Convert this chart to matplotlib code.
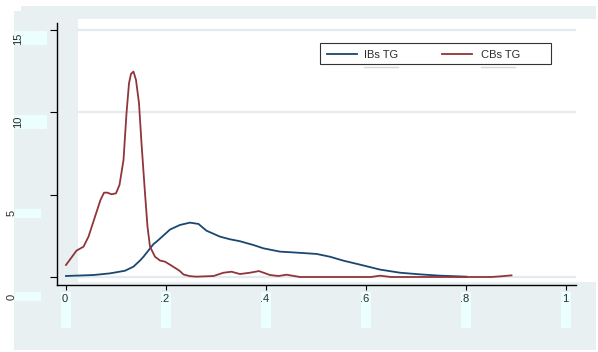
import matplotlib
matplotlib.use('Agg')
import matplotlib.pyplot as plt
import matplotlib.transforms as mtransforms
from matplotlib.patches import Rectangle
from matplotlib.lines import Line2D

plt.rcParams['font.family'] = ['Liberation Sans', 'DejaVu Sans']

# kernel density estimates
ib_x = [0.0, 0.055, 0.088, 0.118, 0.135, 0.148, 0.155, 0.175, 0.181, 0.208, 0.228,
        0.248, 0.265, 0.281, 0.308, 0.328, 0.348, 0.375, 0.395, 0.428, 0.461,
        0.501, 0.528, 0.555, 0.588, 0.628, 0.668, 0.708, 0.748, 0.801]
ib_y = [0.06, 0.12, 0.22, 0.38, 0.63, 1.0, 1.23, 2.0, 2.14, 2.88, 3.16,
        3.30, 3.22, 2.81, 2.45, 2.29, 2.17, 1.94, 1.74, 1.54, 1.48,
        1.40, 1.23, 0.99, 0.75, 0.45, 0.26, 0.16, 0.08, 0.02]

cb_x = [0.0, 0.021, 0.035, 0.045, 0.058, 0.069, 0.076, 0.083, 0.091, 0.100, 0.107,
        0.115, 0.121, 0.126, 0.130, 0.135, 0.140, 0.146, 0.151, 0.158, 0.163,
        0.168, 0.178, 0.188, 0.198, 0.211, 0.227, 0.235, 0.248, 0.261, 0.295,
        0.315, 0.331, 0.348, 0.368, 0.386, 0.408, 0.425, 0.441, 0.468, 0.55,
        0.61, 0.628, 0.65, 0.80, 0.85, 0.87, 0.891]
cb_y = [0.73, 1.60, 1.84, 2.45, 3.66, 4.68, 5.12, 5.12, 5.02, 5.08, 5.59,
        7.10, 9.94, 11.76, 12.33, 12.47, 11.96, 10.55, 8.12, 5.08, 3.05,
        1.84, 1.23, 1.0, 0.93, 0.69, 0.38, 0.15, 0.05, 0.02, 0.06,
        0.26, 0.32, 0.18, 0.26, 0.36, 0.12, 0.06, 0.14, 0.0, 0.0,
        0.0, 0.08, 0.0, 0.0, 0.0, 0.04, 0.1]

x_ticks = [0, 0.2, 0.4, 0.6, 0.8, 1.0]
x_labels = ['0', '.2', '.4', '.6', '.8', '1']
y_ticks = [0, 5, 10, 15]
y_labels = ['0', '5', '10', '15']
series_names = ['IBs TG', 'CBs TG']
blue = '#1a476f'
red = '#90353b'

W, H = 598, 352
gray = '#e9f0f2'
cyan = '#ebfffe'
txt = '#2b2b2b'

fig = plt.figure(figsize=(W / 100, H / 100), dpi=100, facecolor='white')


def frect(x0, y0, x1, y1, color, z=-5, edge='none', lw=0):
    # rectangle given in pixel coords (origin top-left)
    fig.add_artist(Rectangle((x0 / W, 1 - y1 / H), (x1 - x0) / W, (y1 - y0) / H,
                             transform=fig.transFigure, facecolor=color,
                             edgecolor=edge, linewidth=lw, zorder=z))


# background pieces
frect(21, 6, 596, 11, gray)
frect(14, 11, 596, 350, gray)
frect(78, 19, 598, 282, 'white', z=-4)

ax = fig.add_axes([57 / W, 1 - 285 / H, (576 - 57) / W, (285 - 23) / H])
ax.set_facecolor('none')
ax.set_xlim(-0.018, 1.02)
ax.set_ylim(-0.486, 15.42)

for v in [0, 10, 15]:
    ax.axhline(v, xmin=(78 - 57) / (576 - 57), xmax=1, color='#e3ebee', lw=1.6, zorder=0)

ax.plot(ib_x, ib_y, color=blue, lw=1.3, zorder=3, solid_joinstyle='round')
ax.plot(cb_x, cb_y, color=red, lw=1.3, zorder=3, solid_joinstyle='round')

for s in ['top', 'right']:
    ax.spines[s].set_visible(False)
for s in ['left', 'bottom']:
    ax.spines[s].set_linewidth(1.0)
    ax.spines[s].set_color('black')
ax.set_xticks(x_ticks)
ax.set_yticks(y_ticks)
ax.tick_params(axis='y', length=5, width=0.8, labelleft=False)
ax.tick_params(axis='x', length=3.6, width=0.8, labelbottom=False)

# x tick labels with the odd little boxes under them
bx = mtransforms.blended_transform_factory(ax.transData, fig.transFigure)
for v, lab in zip(x_ticks, x_labels):
    ax.add_patch(Rectangle((v - 0.011, 1 - 328 / H), 0.021, 36 / H, transform=bx,
                           facecolor=cyan, edgecolor='none', clip_on=False, zorder=-1))
    ax.text(v - 0.002, 1 - 299 / H, lab, transform=bx, ha='center', va='center',
            fontsize=8, color=txt, clip_on=False)

# y tick labels, rotated and shifted as in the reference
by = mtransforms.blended_transform_factory(fig.transFigure, ax.transData)
ystyle = {0: (11.5, 19.5, 26, 9), 5: (11.5, 18.5, 26, 9),
          10: (18, 9.5, 32, 14), 15: (18, 8.5, 32, 14)}
for v, lab in zip(y_ticks, y_labels):
    cx, dy, bw, bh = ystyle[v]
    off = mtransforms.ScaledTranslation(0, -dy / 100, fig.dpi_scale_trans)
    ycen = H - ax.transData.transform((0, v))[1] + dy
    frect(15, ycen - bh / 2, 15 + bw, ycen + bh / 2, cyan, z=-3)
    ax.text(cx / W, v, lab, transform=by + off, rotation=90, ha='center',
            va='center', fontsize=8, color=txt, clip_on=False)

# legend box
frect(320, 43, 551, 64, 'white', z=5, edge='#333333', lw=0.8)
for (lx0, tx, col, name) in [(327, 364, blue, series_names[0]), (442, 481, red, series_names[1])]:
    fig.add_artist(Line2D([lx0 / W, (lx0 + 30) / W], [1 - 53.5 / H] * 2,
                          transform=fig.transFigure, color=col, lw=1.3, zorder=6))
    fig.text(tx / W, 1 - 54.5 / H, name, ha='left', va='center', fontsize=8,
             color=txt, zorder=6)
    fig.add_artist(Line2D([tx / W, (tx + 34) / W], [1 - 66.5 / H] * 2,
                          transform=fig.transFigure, color='#d3d9db', lw=1.0, zorder=6))

fig.savefig('out.png', dpi=100, facecolor='white')
